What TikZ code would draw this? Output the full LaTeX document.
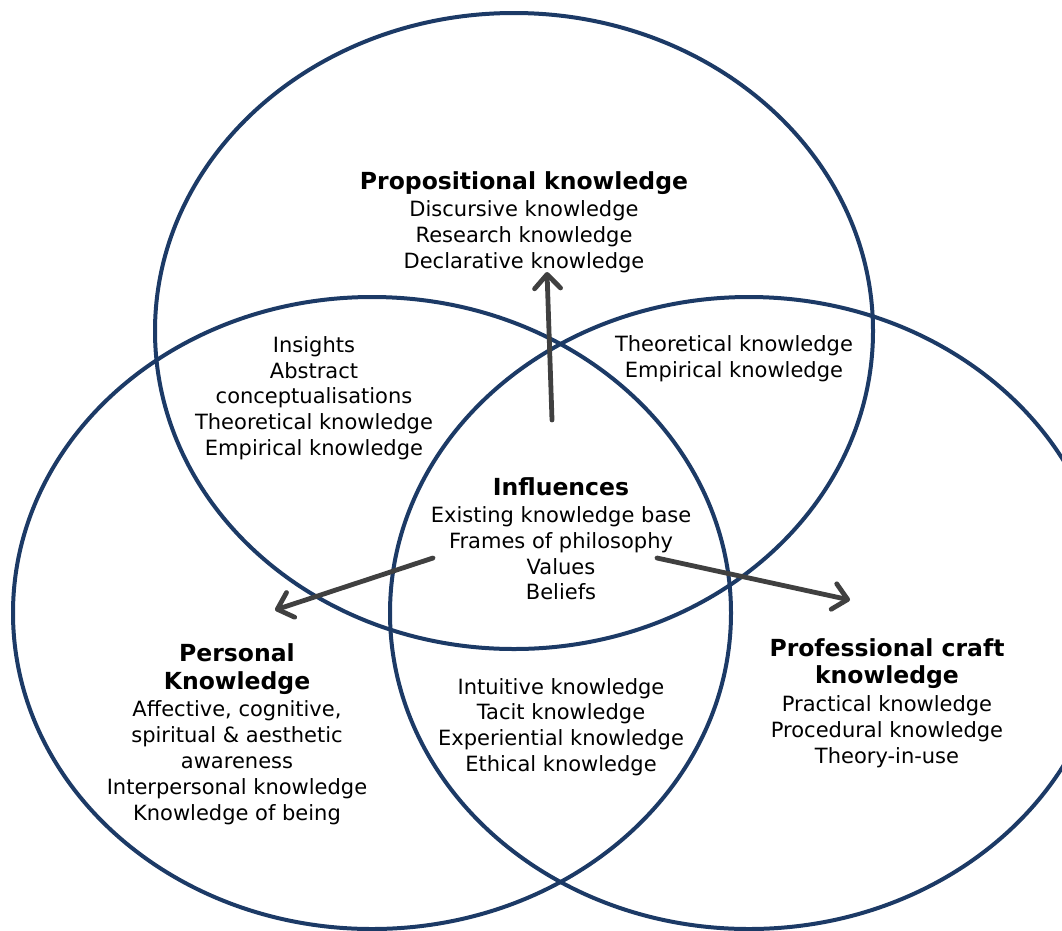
\documentclass[tikz,border=0pt]{standalone}
\usepackage{fontspec}
\setmainfont{DejaVu Sans}
\usetikzlibrary{arrows.meta,positioning}
\definecolor{venn}{HTML}{1C3A66}
\definecolor{arrowgrey}{HTML}{404040}
\newcommand{\ttl}[1]{{\fontsize{23.5}{26}\selectfont\bfseries #1}}

\begin{document}
\begin{tikzpicture}[x=1pt,y=-1pt,>={Straight Barb[length=14pt,width=26pt,round]},
    ring/.style={draw=venn,line width=4pt},
    txt/.style={align=center,inner sep=0pt,font=\fontsize{21}{25.8}\selectfont},
    flow/.style={->,draw=arrowgrey,line width=4.8pt,line cap=round}]
    \clip (0,0) rectangle (1062,930);
    % the three circles
    \draw[ring] (514,331) ellipse [x radius=359,y radius=318];
    \draw[ring] (372,613) ellipse [x radius=359,y radius=316];
    \draw[ring] (749,613) ellipse [x radius=359,y radius=316];
    % labels
    \node[txt] (prop) at (524,222) {\ttl{Propositional knowledge}\\[2pt] Discursive knowledge\\ Research knowledge\\ Declarative knowledge};
    \node[txt] (propPers) at (314,398) {Insights\\ Abstract\\ conceptualisations\\ Theoretical knowledge\\ Empirical knowledge};
    \node[txt] (propProf) at (734,359) {Theoretical knowledge\\ Empirical knowledge};
    \node[txt] (infl) at (561,539) {\ttl{Influences}\\[1pt] Existing knowledge base\\ Frames of philosophy\\ Values\\ Beliefs};
    \node[txt] (pers) at (237,734) {\ttl{Personal}\\[2pt] \ttl{Knowledge}\\[2pt] Affective, cognitive,\\ spiritual \& aesthetic\\ awareness\\ Interpersonal knowledge\\ Knowledge of being};
    \node[txt] (prof) at (887,703) {\ttl{Professional craft}\\[2pt] \ttl{knowledge}\\[2pt] Practical knowledge\\ Procedural knowledge\\ Theory-in-use};
    \node[txt] (persProf) at (561,727) {Intuitive knowledge\\ Tacit knowledge\\ Experiential knowledge\\ Ethical knowledge};
    % arrows out of the centre
    \coordinate (upTail) at (552,420);
    \coordinate (upTip) at (547,272);
    \coordinate (leftTail) at (433,558);
    \coordinate (leftTip) at (275,610);
    \coordinate (rightTail) at (657,558);
    \coordinate (rightTip) at (850,600);
    \draw[flow] (upTail) -- (upTip);
    \draw[flow] (leftTail) -- (leftTip);
    \draw[flow] (rightTail) -- (rightTip);
\end{tikzpicture}
\end{document}
